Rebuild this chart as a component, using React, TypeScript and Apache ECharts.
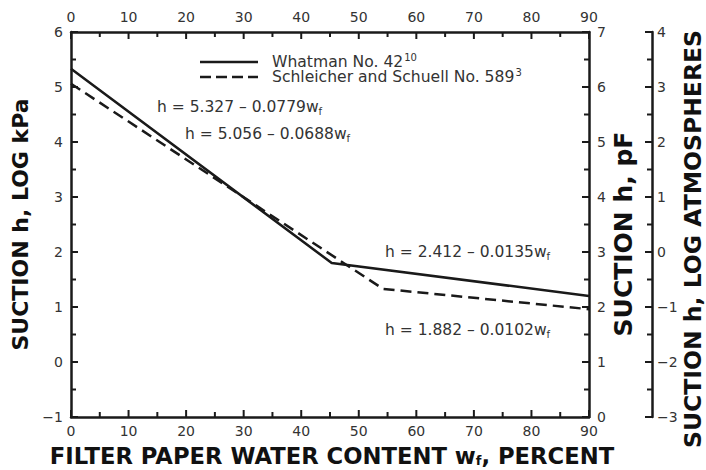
import React, { useEffect, useRef } from "react";
import * as echarts from "echarts";

// Data
const whatmanW = [0, 45.3, 90];
const whatmanH = [5.33, 1.8, 1.2];
const schleicherW = [0, 54.2, 90];
const schleicherH = [5.06, 1.33, 0.96];

const xTicks = { min: 0, max: 90, interval: 10 };
const kPaTicks = { min: -1, max: 6, interval: 1 };
const pFTicks = { min: 0, max: 7, interval: 1 };
const atmTicks = { min: -3, max: 4, interval: 1 };

// tick marks (major + minor)
const xTickValues = [0, 5, 10, 15, 20, 25, 30, 35, 40, 45, 50, 55, 60, 65, 70, 75, 80, 85, 90];
const kPaTickValues = [-1, -0.5, 0, 0.5, 1, 1.5, 2, 2.5, 3, 3.5, 4, 4.5, 5, 5.5, 6];
const pFTickValues = [0, 0.5, 1, 1.5, 2, 2.5, 3, 3.5, 4, 4.5, 5, 5.5, 6, 6.5, 7];
const atmTickValues = [-3, -2.5, -2, -1.5, -1, -0.5, 0, 0.5, 1, 1.5, 2, 2.5, 3, 3.5, 4];

const legendNames = ["Whatman No. 42", "Schleicher and Schuell No. 589"];
const legendSups = ["10", "3"];
const equations = [
  ["h = 5.327 – 0.0779w", "f"],
  ["h = 5.056 – 0.0688w", "f"],
  ["h = 2.412 – 0.0135w", "f"],
  ["h = 1.882 – 0.0102w", "f"],
];
const xTitle = ["FILTER PAPER WATER CONTENT w", "f", ", PERCENT"];
const kPaTitle = "SUCTION h, LOG kPa";
const pFTitle = "SUCTION h, pF";
const atmTitle = "SUCTION h, LOG ATMOSPHERES";

const FONT = "DejaVu Sans, Verdana, sans-serif";
const INK = "#1a1a1a";
const TXT = "#333";
const TITLE = "#111";

const minus = (v: number) => String(v).replace("-", "−");

function measure(text: string, font: string): number {
  const ctx = document.createElement("canvas").getContext("2d");
  if (!ctx) return text.length * 8;
  ctx.font = font;
  return ctx.measureText(text).width;
}

export default function App() {
  const ref = useRef<HTMLDivElement>(null);
  useEffect(() => {
    if (!ref.current) return;
    const chart = echarts.init(ref.current, undefined, { renderer: "svg" });

    const axisLine = () => ({ show: true, onZero: false, lineStyle: { color: INK, width: 2.5 } });
    const label = (margin: number) => ({
      show: true,
      color: TXT,
      fontFamily: FONT,
      fontSize: 14,
      margin,
      formatter: (v: number) => minus(v),
    });
    const isMajor = (v: number, step: number) => Math.abs(v / step - Math.round(v / step)) < 1e-9;

    const tickSeries = (mode: string, yAxisIndex: number, data: number[][], step: number) => ({
      type: "custom",
      xAxisIndex: 0,
      yAxisIndex,
      clip: false,
      silent: true,
      z: 5,
      data,
      renderItem: (_params: any, api: any) => {
        const a = api.value(0);
        const b = api.value(1);
        const p = api.coord([a, b]);
        const v = mode === "bottom" || mode === "top" ? a : b;
        const len = isMajor(v, step) ? 7 : 5;
        let x1 = p[0], y1 = p[1], x2 = p[0], y2 = p[1];
        if (mode === "bottom") y2 = y1 - len;
        else if (mode === "top") y2 = y1 + len;
        else if (mode === "left") x2 = x1 + len;
        else if (mode === "right") x2 = x1 - len;
        else {
          x1 = p[0] + 63;
          x2 = x1 - len;
        }
        return {
          type: "line",
          shape: { x1, y1, x2, y2 },
          style: { stroke: INK, lineWidth: 2 },
        };
      },
    });

    const eqPos = [
      [157, 107],
      [185, 134],
      [385, 252],
      [385, 330],
    ];

    const graphic: any[] = [];
    graphic.push({
      type: "line",
      shape: { x1: 200, y1: 62, x2: 258, y2: 62 },
      style: { stroke: INK, lineWidth: 2.5 },
    });
    graphic.push({
      type: "line",
      shape: { x1: 200, y1: 77, x2: 258, y2: 77 },
      style: { stroke: INK, lineWidth: 2.5, lineDash: [11, 5] },
    });
    const legendFont = 15.6;
    legendNames.forEach((n, i) => {
      const y = 62 + i * 15;
      graphic.push({
        type: "text",
        x: 272,
        y,
        style: {
          text: n,
          fontFamily: FONT,
          fontSize: legendFont,
          lineHeight: 12,
          fill: TXT,
          align: "left",
          verticalAlign: "middle",
        },
      });
      const w = measure(n, `${legendFont}px DejaVu Sans`);
      graphic.push({
        type: "text",
        x: 272 + w + 1,
        y: y - 5,
        style: {
          text: legendSups[i],
          fontFamily: FONT,
          fontSize: 10,
          lineHeight: 9,
          fill: TXT,
          align: "left",
          verticalAlign: "middle",
        },
      });
    });
    equations.forEach((e, i) => {
      graphic.push({
        type: "text",
        x: eqPos[i][0],
        y: eqPos[i][1],
        style: {
          text: `{m|${e[0]}}{b|${e[1]}}`,
          verticalAlign: "middle",
          align: "left",
          fill: TXT,
          rich: {
            m: { fontFamily: FONT, fontSize: 15.5, color: TXT, lineHeight: 18 },
            b: { fontFamily: FONT, fontSize: 10, color: TXT, padding: [8, 0, 0, 0] },
          },
        },
      });
    });
    graphic.push({
      type: "text",
      x: 623,
      y: 234,
      rotation: Math.PI / 2,
      style: {
        text: pFTitle,
        fontFamily: FONT,
        fontWeight: "bold",
        fontSize: 25,
        fill: TITLE,
        align: "center",
        verticalAlign: "middle",
      },
    });
    graphic.push({
      type: "text",
      x: 693,
      y: 239,
      rotation: Math.PI / 2,
      style: {
        text: atmTitle,
        fontFamily: FONT,
        fontWeight: "bold",
        fontSize: 23.5,
        lineHeight: 24,
        fill: TITLE,
        align: "center",
        verticalAlign: "middle",
      },
    });

    chart.setOption({
      animation: false,
      grid: { left: 71, right: 117, top: 32, bottom: 53, containLabel: false, outerBoundsMode: "none" },
      xAxis: [
        {
          type: "value",
          position: "bottom",
          ...xTicks,
          axisLine: axisLine(),
          axisTick: { show: false },
          splitLine: { show: false },
          axisLabel: label(7),
          name: `{a|${xTitle[0]}}{b|${xTitle[1]}}{a|${xTitle[2]}}`,
          nameLocation: "middle",
          nameGap: 28,
          nameTextStyle: {
            padding: [0, 0, 0, 4],
            rich: {
              a: { fontFamily: FONT, fontWeight: "bold", fontSize: 22.7, color: TITLE, lineHeight: 22 },
              b: { fontFamily: FONT, fontWeight: "bold", fontSize: 13, color: TITLE, lineHeight: 13, padding: [8, 0, 0, 0] },
            },
          },
        },
        {
          type: "value",
          position: "top",
          ...xTicks,
          axisLine: axisLine(),
          axisTick: { show: false },
          splitLine: { show: false },
          axisLabel: label(8),
        },
      ],
      yAxis: [
        {
          type: "value",
          position: "left",
          ...kPaTicks,
          axisLine: axisLine(),
          axisTick: { show: false },
          splitLine: { show: false },
          axisLabel: label(8),
          name: kPaTitle,
          nameLocation: "middle",
          nameGap: 36,
          nameTextStyle: { fontFamily: FONT, fontWeight: "bold", fontSize: 22, color: TITLE },
        },
        {
          type: "value",
          position: "right",
          ...pFTicks,
          axisLine: axisLine(),
          axisTick: { show: false },
          splitLine: { show: false },
          axisLabel: label(8),
        },
        {
          type: "value",
          position: "right",
          offset: 63,
          ...atmTicks,
          axisLine: axisLine(),
          axisTick: { show: false },
          splitLine: { show: false },
          axisLabel: label(5),
        },
      ],
      series: [
        {
          type: "line",
          name: legendNames[0],
          xAxisIndex: 0,
          yAxisIndex: 0,
          data: whatmanW.map((w, i) => [w, whatmanH[i]]),
          showSymbol: false,
          symbol: "none",
          lineStyle: { color: INK, width: 2.5 },
        },
        {
          type: "line",
          name: legendNames[1],
          xAxisIndex: 0,
          yAxisIndex: 0,
          data: schleicherW.map((w, i) => [w, schleicherH[i]]),
          showSymbol: false,
          symbol: "none",
          lineStyle: { color: INK, width: 2.5, type: [11, 6] },
        },
        tickSeries("bottom", 0, xTickValues.map((v) => [v, kPaTicks.min]), 10),
        tickSeries("top", 0, xTickValues.map((v) => [v, kPaTicks.max]), 10),
        tickSeries("left", 0, kPaTickValues.map((v) => [xTicks.min, v]), 1),
        tickSeries("right", 1, pFTickValues.map((v) => [xTicks.max, v]), 1),
        tickSeries("atm", 2, atmTickValues.map((v) => [xTicks.max, v]), 1),
      ],
      graphic,
    });
    return () => chart.dispose();
  }, []);
  return <div ref={ref} style={{ width: 706, height: 470, position: "absolute", left: 0, top: 0 }} />;
}
